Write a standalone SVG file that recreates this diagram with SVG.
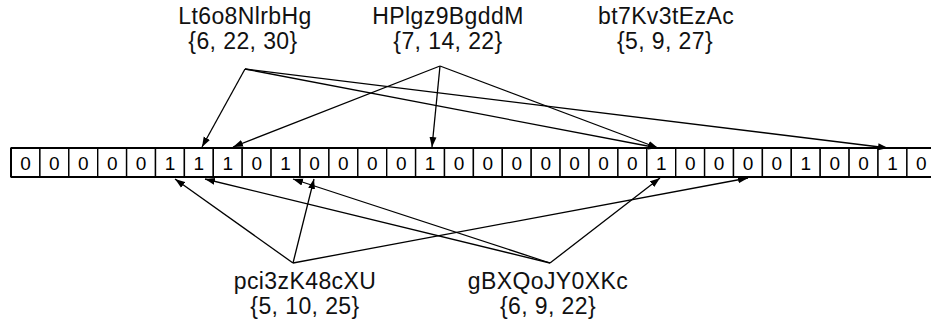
<svg xmlns="http://www.w3.org/2000/svg" width="931" height="329" viewBox="0 0 931 329">
  <style>
    .cell { fill: #fff; stroke: #000; stroke-width: 1.4; }
    .frame { fill: none; stroke: #000; stroke-width: 2; }
    .bit { font-family: "Liberation Sans", Arial, sans-serif; font-size: 19px; text-anchor: middle; fill: #000; }
    .key { font-family: "Liberation Sans", Arial, sans-serif; font-size: 23px; letter-spacing: 0.4px; text-anchor: middle; fill: #111; }
    .link { fill: none; stroke: #000; stroke-width: 1.3; marker-end: url(#head); }
  </style>
  <defs>
    <marker id="head" markerUnits="userSpaceOnUse" markerWidth="11" markerHeight="8" refX="10" refY="4" orient="auto">
      <path d="M0,0.5 L10,4 L0,7.5 z" fill="#000"/>
    </marker>
  </defs>
  <rect width="931" height="329" fill="#fff"/>

  <!-- bit array: 32 cells, x = 11 + i*28.9 -->
  <g id="bit-array">
    <g class="cells">
      <rect class="cell" x="11" y="148" width="28.9" height="29"/>
      <rect class="cell" x="39.9" y="148" width="28.9" height="29"/>
      <rect class="cell" x="68.8" y="148" width="28.9" height="29"/>
      <rect class="cell" x="97.7" y="148" width="28.9" height="29"/>
      <rect class="cell" x="126.6" y="148" width="28.9" height="29"/>
      <rect class="cell" x="155.5" y="148" width="28.9" height="29"/>
      <rect class="cell" x="184.4" y="148" width="28.9" height="29"/>
      <rect class="cell" x="213.3" y="148" width="28.9" height="29"/>
      <rect class="cell" x="242.2" y="148" width="28.9" height="29"/>
      <rect class="cell" x="271.1" y="148" width="28.9" height="29"/>
      <rect class="cell" x="300" y="148" width="28.9" height="29"/>
      <rect class="cell" x="328.9" y="148" width="28.9" height="29"/>
      <rect class="cell" x="357.8" y="148" width="28.9" height="29"/>
      <rect class="cell" x="386.7" y="148" width="28.9" height="29"/>
      <rect class="cell" x="415.6" y="148" width="28.9" height="29"/>
      <rect class="cell" x="444.5" y="148" width="28.9" height="29"/>
      <rect class="cell" x="473.4" y="148" width="28.9" height="29"/>
      <rect class="cell" x="502.3" y="148" width="28.9" height="29"/>
      <rect class="cell" x="531.2" y="148" width="28.9" height="29"/>
      <rect class="cell" x="560.1" y="148" width="28.9" height="29"/>
      <rect class="cell" x="589" y="148" width="28.9" height="29"/>
      <rect class="cell" x="617.9" y="148" width="28.9" height="29"/>
      <rect class="cell" x="646.8" y="148" width="28.9" height="29"/>
      <rect class="cell" x="675.7" y="148" width="28.9" height="29"/>
      <rect class="cell" x="704.6" y="148" width="28.9" height="29"/>
      <rect class="cell" x="733.5" y="148" width="28.9" height="29"/>
      <rect class="cell" x="762.4" y="148" width="28.9" height="29"/>
      <rect class="cell" x="791.3" y="148" width="28.9" height="29"/>
      <rect class="cell" x="820.2" y="148" width="28.9" height="29"/>
      <rect class="cell" x="849.1" y="148" width="28.9" height="29"/>
      <rect class="cell" x="878" y="148" width="28.9" height="29"/>
      <rect class="cell" x="906.9" y="148" width="28.9" height="29"/>
    </g>
    <path class="frame" d="M11,148 H935 M11,177 H935 M11,148 V177"/>
    <g class="bits">
      <text class="bit" x="25.5" y="169.5">0</text>
      <text class="bit" x="54.4" y="169.5">0</text>
      <text class="bit" x="83.3" y="169.5">0</text>
      <text class="bit" x="112.2" y="169.5">0</text>
      <text class="bit" x="141.1" y="169.5">0</text>
      <text class="bit" x="170" y="169.5">1</text>
      <text class="bit" x="198.9" y="169.5">1</text>
      <text class="bit" x="227.8" y="169.5">1</text>
      <text class="bit" x="256.7" y="169.5">0</text>
      <text class="bit" x="285.6" y="169.5">1</text>
      <text class="bit" x="314.5" y="169.5">0</text>
      <text class="bit" x="343.4" y="169.5">0</text>
      <text class="bit" x="372.3" y="169.5">0</text>
      <text class="bit" x="401.2" y="169.5">0</text>
      <text class="bit" x="430.1" y="169.5">1</text>
      <text class="bit" x="459" y="169.5">0</text>
      <text class="bit" x="487.9" y="169.5">0</text>
      <text class="bit" x="516.8" y="169.5">0</text>
      <text class="bit" x="545.7" y="169.5">0</text>
      <text class="bit" x="574.6" y="169.5">0</text>
      <text class="bit" x="603.5" y="169.5">0</text>
      <text class="bit" x="632.4" y="169.5">0</text>
      <text class="bit" x="661.3" y="169.5">1</text>
      <text class="bit" x="690.2" y="169.5">0</text>
      <text class="bit" x="719.1" y="169.5">0</text>
      <text class="bit" x="748" y="169.5">0</text>
      <text class="bit" x="776.9" y="169.5">0</text>
      <text class="bit" x="805.8" y="169.5">1</text>
      <text class="bit" x="834.7" y="169.5">0</text>
      <text class="bit" x="863.6" y="169.5">0</text>
      <text class="bit" x="892.5" y="169.5">1</text>
      <text class="bit" x="921.4" y="169.5">0</text>
    </g>
  </g>

  <!-- keys and their hash positions -->
  <g id="key-Lt6o8NlrbHg">
    <text class="key" x="245" y="24">Lt6o8NlrbHg</text>
    <text class="key" x="243" y="49">{6, 22, 30}</text>
  </g>
  <g id="key-HPlgz9BgddM">
    <text class="key" x="448" y="24">HPlgz9BgddM</text>
    <text class="key" x="448" y="49">{7, 14, 22}</text>
  </g>
  <g id="key-bt7Kv3tEzAc">
    <text class="key" x="666" y="24">bt7Kv3tEzAc</text>
    <text class="key" x="665" y="49">{5, 9, 27}</text>
  </g>
  <g id="key-pci3zK48cXU">
    <text class="key" x="305" y="289">pci3zK48cXU</text>
    <text class="key" x="305" y="314">{5, 10, 25}</text>
  </g>
  <g id="key-gBXQoJY0XKc">
    <text class="key" x="548" y="289">gBXQoJY0XKc</text>
    <text class="key" x="548" y="314">{6, 9, 22}</text>
  </g>

  <!-- hash arrows -->
  <g id="connectors">
    <line class="link" x1="245" y1="69" x2="202" y2="147"/>
    <line class="link" x1="245" y1="69" x2="658" y2="148"/>
    <line class="link" x1="245" y1="69" x2="888" y2="148"/>
    <line class="link" x1="440" y1="66" x2="233" y2="147"/>
    <line class="link" x1="440" y1="66" x2="432" y2="147"/>
    <line class="link" x1="440" y1="66" x2="658" y2="148"/>
    <line class="link" x1="293" y1="263" x2="175" y2="179"/>
    <line class="link" x1="293" y1="263" x2="314" y2="179"/>
    <line class="link" x1="293" y1="263" x2="748" y2="178"/>
    <line class="link" x1="550" y1="263" x2="205" y2="179"/>
    <line class="link" x1="550" y1="263" x2="293" y2="179"/>
    <line class="link" x1="550" y1="263" x2="660" y2="178"/>
  </g>
</svg>
